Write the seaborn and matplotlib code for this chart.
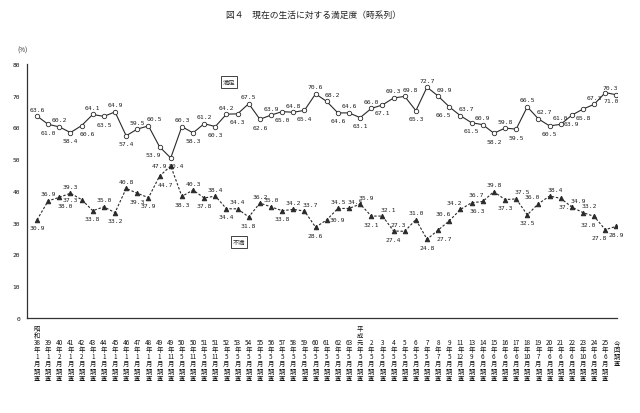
import matplotlib
matplotlib.use("Agg")
import matplotlib.pyplot as plt
import seaborn as sns
import pandas as pd

# ---------------- data ----------------
years = ['38', '39', '40', '41', '42', '43', '44', '45', '46', '47', '48', '49', '49',
         '50', '50', '51', '51', '52', '53', '54', '55', '56', '57', '58', '59', '60',
         '61', '62', '63', '元', '2', '3', '4', '5', '6', '7', '8', '9', '11', '13',
         '14', '15', '16', '17', '18', '19', '20', '21', '22', '23', '24', '25', '今回']
months = ['1', '1', '2', '1', '2', '1', '1', '1', '1', '1', '1', '1', '11',
          '5', '11', '5', '11', '5', '5', '5', '5', '5', '5', '5', '5', '5',
          '5', '5', '5', '5', '5', '5', '5', '5', '5', '5', '7', '5', '12', '9',
          '6', '6', '6', '6', '10', '7', '6', '6', '6', '10', '6', '6', '']
satisfied = [63.6, 61.0, 60.2, 58.4, 60.6, 64.1, 63.5, 64.9, 57.4, 59.5, 60.5, 53.9, 50.4,
             60.3, 58.3, 61.2, 60.3, 64.2, 64.3, 67.5, 62.6, 63.9, 65.0, 64.8, 65.4, 70.6,
             68.2, 64.6, 64.6, 63.1, 66.0, 67.1, 69.3, 69.8, 65.3, 72.7, 69.9, 66.5, 63.7,
             61.5, 60.9, 58.2, 59.8, 59.5, 66.5, 62.7, 60.5, 61.0, 63.9, 65.8, 67.3, 71.0, 70.3]
dissatisfied = [30.9, 36.9, 38.0, 39.3, 37.3, 33.8, 35.0, 33.2, 40.8, 39.3, 37.9, 44.7, 47.9,
                38.3, 40.3, 37.8, 38.4, 34.4, 34.4, 31.8, 36.2, 35.0, 33.8, 34.2, 33.7, 28.6,
                30.9, 34.5, 34.5, 35.9, 32.1, 32.1, 27.4, 27.3, 31.0, 24.8, 27.7, 30.6, 34.2,
                36.3, 36.7, 39.8, 37.3, 37.5, 32.5, 36.0, 38.4, 37.7, 34.9, 33.2, 32.0, 27.8, 28.9]

# label placement codes (style only)
sat_pos = ("a b a b br a b a b a ar bl br a b a b a b a b a b a b a ar b a b a b a ar b a "
           "ar bl ar b a b a b a ar b a b b a br al").split()
dis_pos = ("b a br a l b a b a b b br l b a b a b a b a a b a ar b r a ar ar b ar b al a b "
           "br al al br al a b ar b al ar br ar ar bl bl b").split()

# ---------------- labels ----------------
tick_labels = []
for i, (y, m) in enumerate(zip(years, months)):
    if y == '今回':
        tick_labels.append("\n\n今\n回\n調\n査")
    elif y == '元':
        tick_labels.append("平\n成\n元\n年\n%s\n月\n調\n査" % m)
    elif i == 0:
        tick_labels.append("昭\n和\n%s\n年\n%s\n月\n調\n査" % (y, m))
    else:
        tick_labels.append("\n\n%s\n年\n%s\n月\n調\n査" % (y, m))

x = list(range(len(years)))
df = pd.DataFrame({"x": x, "満足": satisfied, "不満": dissatisfied})

sns.set_style("white")
plt.rcParams['font.family'] = ['Noto Sans CJK JP', 'DejaVu Sans']

fig = plt.figure(figsize=(6.4, 4.14), dpi=100)
ax = fig.add_axes([27 / 640, 1 - 319 / 414, (617 - 27) / 640, (319 - 65) / 414])

col = '#2a2a2a'
sns.lineplot(data=df, x="x", y="満足", ax=ax, color=col, lw=0.8,
             marker='o', markersize=3.2, markerfacecolor='white',
             markeredgecolor=col, markeredgewidth=0.6)
sns.lineplot(data=df, x="x", y="不満", ax=ax, color=col, lw=0.8,
             marker='^', markersize=3.2, markerfacecolor=col,
             markeredgecolor=col, linestyle=(0, (2.2, 1.6)))

ax.set_xlim(-0.9, 52.05)
ax.set_ylim(0, 80)
ax.set_xlabel("")
ax.set_ylabel("")
ax.set_yticks(range(0, 81, 10))
ax.set_yticklabels([str(v) for v in range(0, 81, 10)], fontsize=4.5, family='DejaVu Sans Mono')
ax.set_xticks(x)
ax.set_xticklabels(tick_labels, fontsize=4.6, linespacing=0.86)
ax.tick_params(axis='x', direction='in', length=2.5, width=0.6, pad=4, colors='#111')
ax.tick_params(axis='y', direction='in', length=2.5, width=0.6, pad=5, colors='#111')
for s in ['top', 'right']:
    ax.spines[s].set_visible(False)
for s in ['left', 'bottom']:
    ax.spines[s].set_color('#333')
    ax.spines[s].set_linewidth(0.9)

offs = {'a': (0, 7), 'b': (0, -8), 'l': (-11, 0), 'r': (11, 0),
        'ar': (6, 7), 'al': (-6, 7), 'br': (6, -8), 'bl': (-6, -8)}
for series, pos in ((satisfied, sat_pos), (dissatisfied, dis_pos)):
    for xi, v, p in zip(x, series, pos):
        ax.annotate("%.1f" % v, (xi, v), xytext=offs[p], textcoords='offset pixels',
                    ha='center', va='center', fontsize=4.6, family='DejaVu Sans Mono',
                    color='#222')

box = dict(boxstyle='square,pad=0.25', fc='white', ec='#222', lw=0.6)
fig.text(229 / 640, 1 - 83 / 414, "満足", fontsize=4.5, ha='center', va='center', bbox=box)
fig.text(239 / 640, 1 - 243 / 414, "不満", fontsize=4.5, ha='center', va='center', bbox=box)
fig.text(22 / 640, 1 - 51 / 414, "(%)", fontsize=4.5, ha='center', va='center')
fig.text(314 / 640, 1 - 15 / 414, "図４　現在の生活に対する満足度（時系列）", fontsize=6.3,
         ha='center', va='center', color='#222')

fig.savefig("out.png", dpi=100)
